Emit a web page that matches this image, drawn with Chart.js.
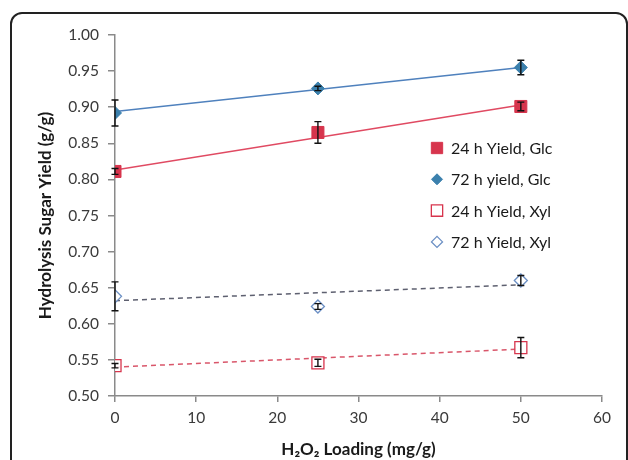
<!DOCTYPE html>
<html>
<head>
<meta charset="utf-8">
<script src="https://cdn.jsdelivr.net/npm/chart.js@4.4.1/dist/chart.umd.min.js"></script>
<style>
  html, body { margin: 0; padding: 0; background: #fff; }
  #wrap { position: relative; width: 628px; height: 460px; overflow: hidden; }
  #frame {
    position: absolute; left: 10px; top: 12px; width: 618px; height: 480px;
    border: 2px solid #222; border-radius: 12px; box-sizing: border-box;
  }
  #chart { position: absolute; left: 0; top: 0; }
</style>
</head>
<body>
<div id="wrap">
  <div id="frame"></div>
  <canvas id="chart" width="628" height="460"></canvas>
</div>
<script>
// H2O2 loading (mg/g)
const loading = [0, 25, 50];

// measured yields (g/g) and error bars
const glc24 = [0.811, 0.865, 0.901];
const glc24Err = [0.004, 0.015, 0.006];
const glc72 = [0.892, 0.926, 0.955];
const glc72Err = [0.018, 0.003, 0.010];
const xyl24 = [0.542, 0.546, 0.567];
const xyl24Err = [0.003, 0.005, 0.014];
const xyl72 = [0.638, 0.624, 0.660];
const xyl72Err = [0.020, 0.004, 0.007];

// linear trend lines, read at both ends
const trendX = [0, 50];
const glc24Trend = [0.813, 0.903];
const glc72Trend = [0.894, 0.955];
const xyl24Trend = [0.540, 0.565];
const xyl72Trend = [0.632, 0.654];

const seriesLabels = ['24 h Yield, Glc', '72 h yield, Glc', '24 h Yield, Xyl', '72 h Yield, Xyl'];

const red = '#d7354d';
const blue = '#3b80ad';
const blueLine = '#4f81bd';
const blueOpen = '#6b8fc4';
const font = "Lato, 'Open Sans', sans-serif";

const pts = (xs, ys) => xs.map((x, i) => ({ x, y: ys[i] }));

const markerSets = [
  { label: seriesLabels[0], data: pts(loading, glc24), err: glc24Err,
    pointStyle: 'rect', pointRadius: 8.5, backgroundColor: red, borderColor: red, pointBorderWidth: 1 },
  { label: seriesLabels[1], data: pts(loading, glc72), err: glc72Err,
    pointStyle: 'rectRot', pointRadius: 6.5, backgroundColor: blue, borderColor: blue, pointBorderWidth: 1 },
  { label: seriesLabels[2], data: pts(loading, xyl24), err: xyl24Err,
    pointStyle: 'rect', pointRadius: 8.5, backgroundColor: 'rgba(255,255,255,0.85)', borderColor: red, pointBorderWidth: 1.3 },
  { label: seriesLabels[3], data: pts(loading, xyl72), err: xyl72Err,
    pointStyle: 'rectRot', pointRadius: 6.5, backgroundColor: 'rgba(255,255,255,0.85)', borderColor: blueOpen, pointBorderWidth: 1.3 },
];

const trendSets = [
  { data: pts(trendX, glc24Trend), borderColor: '#e04a62', borderDash: [] },
  { data: pts(trendX, glc72Trend), borderColor: blueLine, borderDash: [] },
  { data: pts(trendX, xyl24Trend), borderColor: '#d9566a', borderDash: [5, 4] },
  { data: pts(trendX, xyl72Trend), borderColor: '#5e6070', borderDash: [5, 4] },
];

const datasets = markerSets.map(d => Object.assign({
  type: 'scatter', showLine: false, pointHoverRadius: d.pointRadius, isMarker: true,
}, d)).concat(trendSets.map(d => Object.assign({
  type: 'line', pointRadius: 0, borderWidth: 1.5, fill: false, isMarker: false,
}, d)));

// error bars drawn on top of the markers
const errorBars = {
  id: 'errorBars',
  afterDatasetsDraw(chart) {
    const { ctx, scales: { x, y } } = chart;
    ctx.save();
    ctx.strokeStyle = '#111';
    ctx.lineWidth = 1.4;
    chart.data.datasets.forEach(ds => {
      if (!ds.err) return;
      ds.data.forEach((p, i) => {
        const e = ds.err[i];
        const px = x.getPixelForValue(p.x);
        const top = y.getPixelForValue(p.y + e);
        const bot = y.getPixelForValue(p.y - e);
        ctx.beginPath();
        ctx.moveTo(px, top); ctx.lineTo(px, bot);
        ctx.moveTo(px - 3.5, top); ctx.lineTo(px + 3.5, top);
        ctx.moveTo(px - 3.5, bot); ctx.lineTo(px + 3.5, bot);
        ctx.stroke();
      });
    });
    ctx.restore();
  }
};

// legend placed inside the plot, right of centre
const innerLegend = {
  id: 'innerLegend',
  afterDraw(chart) {
    const { ctx } = chart;
    const mx = 437, tx = 451, y0 = 148, step = 31.3;
    ctx.save();
    ctx.font = '16px ' + font;
    ctx.textBaseline = 'middle';
    chart.data.datasets.filter(d => d.isMarker).forEach((ds, i) => {
      const yy = y0 + i * step;
      ctx.fillStyle = ds.backgroundColor;
      ctx.strokeStyle = ds.borderColor;
      ctx.lineWidth = ds.pointBorderWidth;
      Chart.helpers.drawPoint(ctx, {
        pointStyle: ds.pointStyle,
        radius: ds.pointStyle === 'rect' ? 8 : 5.5,
        rotation: 0,
        borderWidth: ds.pointBorderWidth,
      }, mx, yy);
      ctx.fillStyle = '#1a1a1a';
      ctx.fillText(ds.label, tx, yy + 1);
    });
    ctx.restore();
  }
};

new Chart(document.getElementById('chart'), {
  data: { datasets },
  options: {
    responsive: false,
    animation: false,
    events: [],
    layout: { padding: { left: 32, right: 26, top: 35, bottom: 0 } },
    plugins: {
      legend: { display: false },
      tooltip: { enabled: false },
    },
    scales: {
      x: {
        type: 'linear',
        min: 0, max: 60,
        afterFit: (s) => { s.height = 64; },
        border: { display: true, color: '#8a8a8a', width: 1.5 },
        grid: { display: true, drawOnChartArea: false, drawTicks: true, tickLength: 6, color: '#8a8a8a', lineWidth: 1.5 },
        ticks: { stepSize: 10, padding: 7, color: '#3a3a3a', font: { family: font, size: 15.5 } },
        title: {
          display: true, text: 'H₂O₂ Loading (mg/g)', color: '#1a1a1a',
          font: { family: font, size: 17, weight: 'bold' }, padding: { top: 0, bottom: 0 },
        },
      },
      y: {
        type: 'linear',
        min: 0.5, max: 1.0,
        afterFit: (s) => { s.width = 83; },
        border: { display: true, color: '#8a8a8a', width: 1.5 },
        grid: { display: true, drawOnChartArea: false, drawTicks: true, tickLength: 7, color: '#8a8a8a', lineWidth: 1.5 },
        ticks: {
          stepSize: 0.05, padding: 9, color: '#3a3a3a', font: { family: font, size: 15.5 },
          callback: (v) => v.toFixed(2),
        },
        title: {
          display: true, text: 'Hydrolysis Sugar Yield (g/g)', color: '#1a1a1a',
          font: { family: font, size: 17, weight: 'bold' }, padding: { top: 3, bottom: 0 },
        },
      },
    },
  },
  plugins: [errorBars, innerLegend],
});
</script>
</body>
</html>
